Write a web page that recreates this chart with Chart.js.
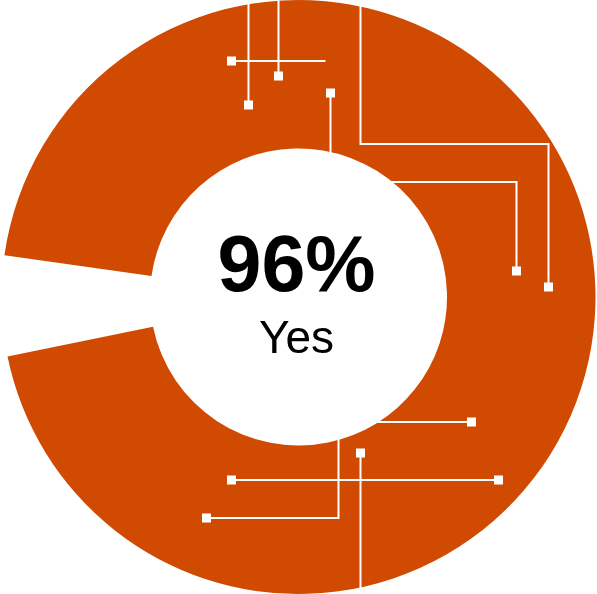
<!DOCTYPE html>
<html>
<head>
<meta charset="utf-8">
<script src="https://cdn.jsdelivr.net/npm/chart.js@4"></script>
<style>
  html, body { margin: 0; padding: 0; background: #fff; }
  #wrap { width: 597px; height: 594px; position: relative; }
</style>
</head>
<body>
<div id="wrap"><canvas id="donut"></canvas></div>
<script>
const labels = ['Yes', 'No'];
const values = [96, 4];
const sliceColors = ['#D04A02', 'rgba(255, 255, 255, 0)'];
const centerValue = '96%';
const centerLabel = 'Yes';

// decorative circuit traces, offsets from the centre in px at radius 297
// each: points, and which ends get a square pad
const traces = [
    { pts: [[-50, -302], [-50, -192]], pads: [false, true] },
    { pts: [[-20, -302], [-20, -221]], pads: [false, true] },
    { pts: [[-67, -236], [27, -236]], pads: [true, false] },
    { pts: [[62, -302], [62, -153], [250, -153], [250, -10]], pads: [false, true] },
    { pts: [[32, -204], [32, -132]], pads: [true, false] },
    { pts: [[87, -115], [218, -115], [218, -26]], pads: [false, true] },
    { pts: [[77, 125], [173, 125]], pads: [false, true] },
    { pts: [[62, 156], [62, 303]], pads: [true, false] },
    { pts: [[-67, 183], [200, 183]], pads: [true, true] },
    { pts: [[40, 138], [40, 221], [-92, 221]], pads: [false, true] }
];

const circuitPlugin = {
    id: 'circuit',
    afterDatasetsDraw(chart) {
        const arc = chart.getDatasetMeta(0).data[0];
        const cx = arc.x, cy = arc.y;
        const k = arc.outerRadius / 297;
        const ctx = chart.ctx;
        ctx.save();
        ctx.strokeStyle = '#fff';
        ctx.fillStyle = '#fff';
        ctx.lineWidth = 2;
        traces.forEach(t => {
            ctx.beginPath();
            t.pts.forEach((p, i) => {
                const x = cx + p[0] * k, y = cy + p[1] * k;
                if (i === 0) ctx.moveTo(x, y); else ctx.lineTo(x, y);
            });
            ctx.stroke();
            // square pads on the ends
            [0, t.pts.length - 1].forEach((idx, n) => {
                if (!t.pads[n]) return;
                const p = t.pts[idx];
                ctx.fillRect(cx + p[0] * k - 4.5, cy + p[1] * k - 4.5, 9, 9);
            });
        });

        // centre text
        ctx.fillStyle = '#000';
        ctx.textAlign = 'center';
        ctx.textBaseline = 'alphabetic';
        ctx.font = 'bold 79px "Liberation Sans", Arial, sans-serif';
        ctx.fillText(centerValue, cx - 2, cy - 6);
        ctx.font = '46px "Liberation Sans", Arial, sans-serif';
        ctx.fillText(centerLabel, cx - 2, cy + 56);
        ctx.restore();
    }
};

new Chart(document.getElementById('donut'), {
    type: 'doughnut',
    data: {
        labels: labels,
        datasets: [{
            data: values,
            backgroundColor: sliceColors,
            borderWidth: 0
        }]
    },
    options: {
        responsive: true,
        maintainAspectRatio: false,
        animation: false,
        cutout: '50%',
        rotation: 278.1,
        circumference: 354.5,
        layout: { padding: 0 },
        plugins: {
            legend: { display: false },
            tooltip: { enabled: false }
        }
    },
    plugins: [circuitPlugin]
});
</script>
</body>
</html>
